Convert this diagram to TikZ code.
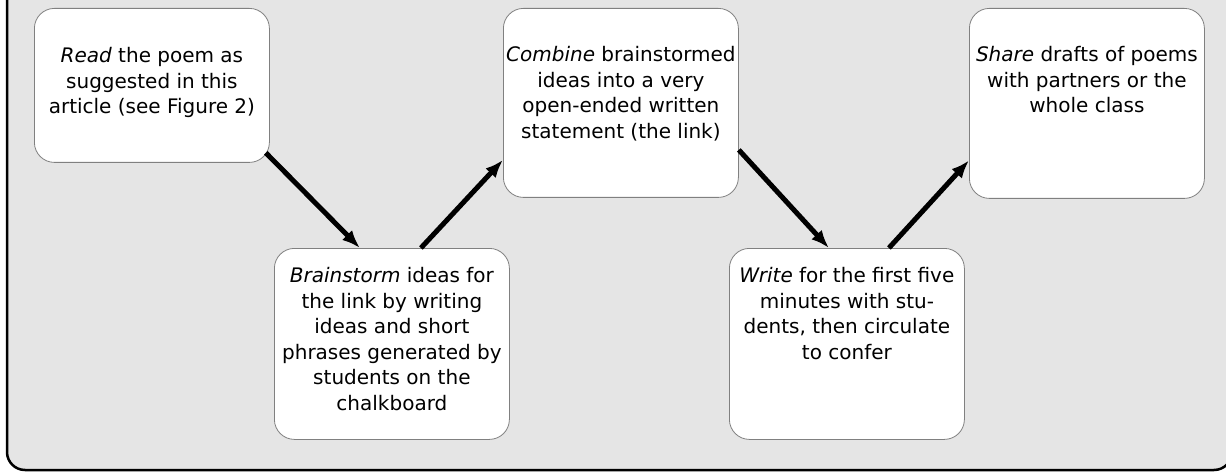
\documentclass[tikz,border=0pt]{standalone}
\usepackage{fontspec}
\setmainfont{DejaVu Sans}
\usetikzlibrary{arrows.meta}

\newcommand{\stepbody}[3]{\parbox[c][#1][t]{232pt}{\centering\vspace*{#2}#3}}

\begin{document}
\begin{tikzpicture}[x=1pt,y=1pt,
    stepbox/.style={draw=black!50, fill=white, rounded corners=20pt, line width=0.8pt,
        inner xsep=1.5pt, inner ysep=0pt, anchor=north west,
        font=\fontsize{20}{25.5}\selectfont},
    link/.style={line width=5pt, -{Latex[length=18pt,width=14pt]}}]
    \useasboundingbox (0,0) rectangle (1226,472);
    \clip (0,0) rectangle (1226,472);
    \draw[line width=2.5pt, fill=black!10, rounded corners=18pt] (7,2) rectangle (1232,500);
    \node[stepbox] (read) at (34,464) {\stepbody{154pt}{39pt}{\emph{Read} the poem as\\ suggested in this\\ article (see Figure 2)}};
    \node[stepbox] (brain) at (274,224) {\stepbody{191pt}{19pt}{\emph{Brainstorm} ideas for\\ the link by writing\\ ideas and short\\ phrases generated by\\ students on the\\ chalkboard}};
    \node[stepbox] (comb) at (503,464) {\stepbody{189pt}{38pt}{\emph{Combine} brainstormed\\ ideas into a very\\ open-ended written\\ statement (the link)}};
    \node[stepbox] (write) at (729,224) {\stepbody{191pt}{19pt}{\emph{Write} for the first five\\ minutes with stu-\\ dents, then circulate\\ to confer}};
    \node[stepbox] (share) at (969,464) {\stepbody{190pt}{38pt}{\emph{Share} drafts of poems\\ with partners or the\\ whole class}};
    \draw[link] ([shift={(-4pt,10pt)}]read.south east) -- ([xshift=-32pt]brain.north);
    \draw[link] ([xshift=29pt]brain.north) -- ([yshift=-57pt]comb.west);
    \draw[link] ([yshift=-47pt]comb.east) -- ([xshift=-18pt]write.north);
    \draw[link] ([xshift=42pt]write.north) -- ([yshift=-57pt]share.west);
\end{tikzpicture}
\end{document}
